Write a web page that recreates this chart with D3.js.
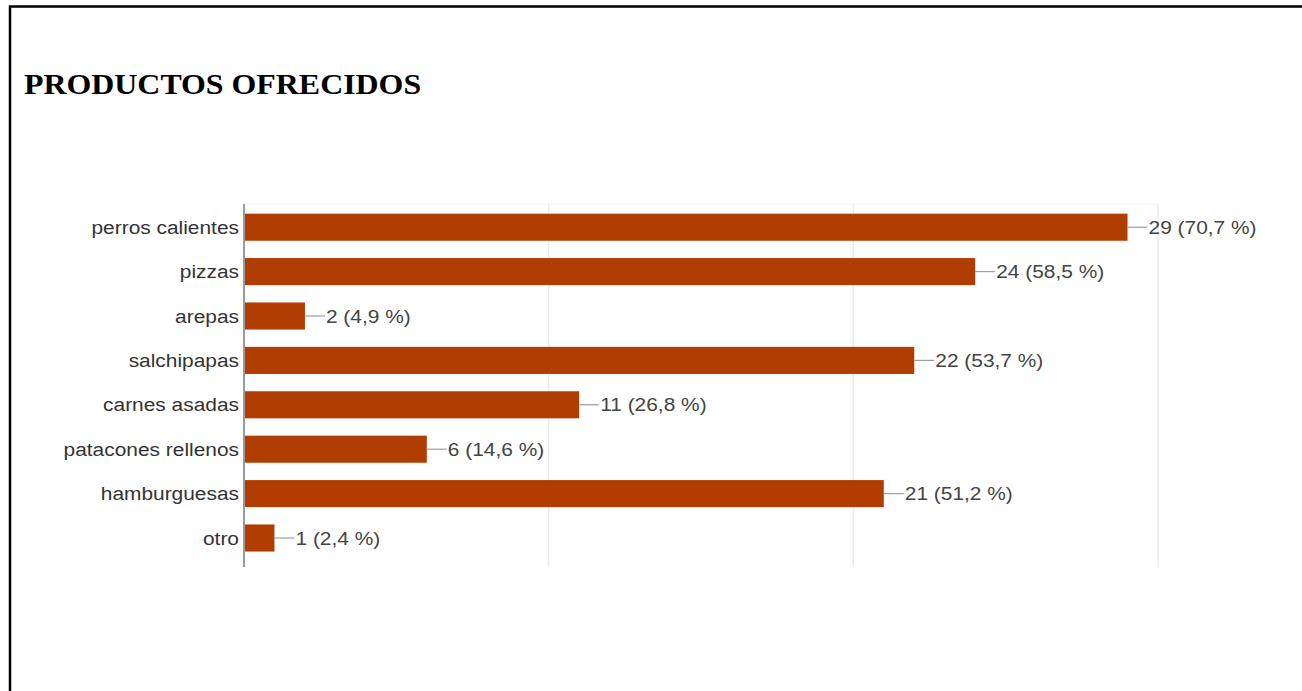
<!DOCTYPE html>
<html>
<head>
<meta charset="utf-8">
<script src="https://cdn.jsdelivr.net/npm/d3@7/dist/d3.min.js"></script>
<style>
  html, body { margin: 0; padding: 0; background: #fff; }
  svg { display: block; }
</style>
</head>
<body>
<svg id="chart" width="1302" height="691"></svg>
<script>
const title = "PRODUCTOS OFRECIDOS";
const categories = ["perros calientes", "pizzas", "arepas", "salchipapas", "carnes asadas", "patacones rellenos", "hamburguesas", "otro"];
const counts = [29, 24, 2, 22, 11, 6, 21, 1];
const percents = [70.7, 58.5, 4.9, 53.7, 26.8, 14.6, 51.2, 2.4];
const xTicks = [0, 10, 20, 30];

const svg = d3.select("#chart");
const SX = 1.1; // horizontal stretch of the original picture

// frame
svg.append("path").attr("d", "M10,691 V6.5 H1302")
  .attr("fill", "none").attr("stroke", "#000").attr("stroke-width", 2.5);

// title
svg.append("text")
  .attr("transform", `translate(24,94) scale(${SX},1)`)
  .attr("font-family", "'Liberation Serif', 'Times New Roman', serif")
  .attr("font-weight", "bold").attr("font-size", 29).attr("fill", "#000")
  .text(title);

const x = d3.scaleLinear().domain([0, 30]).range([244, 1158]);
const y = d3.scaleBand().domain(categories).range([205, 205 + 44.4 * categories.length])
  .paddingInner(0.39).paddingOuter(0.195);
const plotTop = 204, plotBottom = 567;

// gridlines
svg.append("line").attr("x1", x(0)).attr("x2", x(30)).attr("y1", plotTop).attr("y2", plotTop)
  .attr("stroke", "#f2f2f2").attr("stroke-width", 1);
svg.selectAll("line.grid").data(xTicks.slice(1)).join("line").attr("class", "grid")
  .attr("x1", d => x(d)).attr("x2", d => x(d)).attr("y1", plotTop).attr("y2", plotBottom)
  .attr("stroke", "#ebebeb").attr("stroke-width", 1.5);

// bars
const rows = categories.map((c, i) => ({ c, n: counts[i], p: percents[i] }));
svg.selectAll("rect.bar").data(rows).join("rect").attr("class", "bar")
  .attr("x", x(0)).attr("y", d => y(d.c))
  .attr("width", d => x(d.n) - x(0)).attr("height", y.bandwidth())
  .attr("fill", "#b13e00");

// axis line
svg.append("line").attr("x1", x(0)).attr("x2", x(0)).attr("y1", plotTop).attr("y2", plotBottom)
  .attr("stroke", "#9a9a9a").attr("stroke-width", 2);

// category labels
svg.selectAll("text.cat").data(rows).join("text").attr("class", "cat")
  .attr("transform", d => `translate(239,${y(d.c) + y.bandwidth() / 2 + 6.5}) scale(${SX},1)`)
  .attr("text-anchor", "end")
  .attr("font-family", "'Liberation Sans', Arial, sans-serif").attr("font-size", 19)
  .attr("fill", "#333").text(d => d.c);

// connectors & value labels
const fmt = v => String(v).replace(".", ",");
svg.selectAll("line.conn").data(rows).join("line").attr("class", "conn")
  .attr("x1", d => x(d.n)).attr("x2", d => x(d.n) + 20)
  .attr("y1", d => y(d.c) + y.bandwidth() / 2).attr("y2", d => y(d.c) + y.bandwidth() / 2)
  .attr("stroke", "#9e9e9e").attr("stroke-width", 1.2);
svg.selectAll("text.val").data(rows).join("text").attr("class", "val")
  .attr("transform", d => `translate(${x(d.n) + 21},${y(d.c) + y.bandwidth() / 2 + 6.5}) scale(${SX},1)`)
  .attr("font-family", "'Liberation Sans', Arial, sans-serif").attr("font-size", 19)
  .attr("fill", "#444").text(d => `${d.n} (${fmt(d.p)} %)`);
</script>
</body>
</html>
